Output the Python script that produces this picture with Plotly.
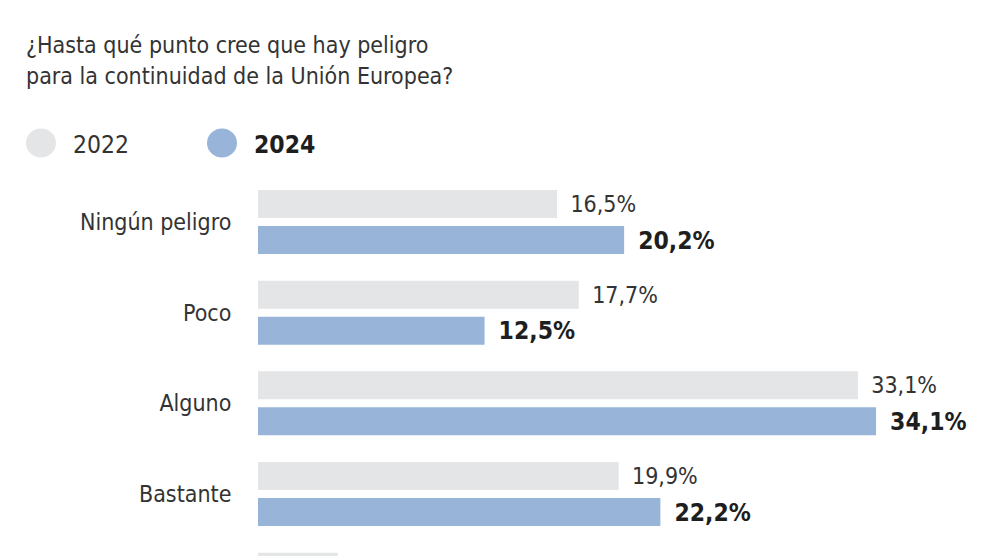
import plotly.graph_objects as go

categories = ["Ningún peligro", "Poco", "Alguno", "Bastante", "Mucho"]
values_2022 = [16.5, 17.7, 33.1, 19.9, 4.4]
values_2024 = [20.2, 12.5, 34.1, 22.2, None]
series_names = ["2022", "2024"]
title_lines = ["¿Hasta qué punto cree que hay peligro", "para la continuidad de la Unión Europea?"]

FONT = "DejaVu Sans Condensed, DejaVu Sans, sans-serif"
GRAY = "#e4e5e6"
BLUE = "#98b5d9"
TXT = "#333333"
DARK = "#1e1e1e"

# page has an 8px body margin; lay out in reference-page pixels
OFF = 8
W_FIG, H_FIG = 990 - OFF, 556 - OFF
L, T = 258 - OFF, 170 - OFF
PW, PH = W_FIG - L, H_FIG - T
PX_PER_PCT = 18.125
PX_PER_CAT = 90.67
CAT0_PX = 222 - OFF


def fmt(v):
    return "" if v is None else f"{v:.1f}".replace(".", ",") + "%"


def xp(px):
    return (px - OFF - L) / PW


def yp(py):
    return 1 - (py - OFF - T) / PH


labels_2022 = [fmt(v) for v in values_2022]
labels_2024 = [fmt(v) for v in values_2024]
labels_2022[-1] = ""  # value of the cut-off last row is not shown

bar_w = 28 / PX_PER_CAT
fig = go.Figure()
fig.add_trace(go.Bar(
    y=categories, x=values_2022, orientation="h", name=series_names[0],
    marker=dict(color=GRAY, line=dict(width=0)),
    width=bar_w, offset=-32 / PX_PER_CAT,
    text=labels_2022, textposition="outside",
    texttemplate="\u2002%{text}", constraintext="none", cliponaxis=True,
    textfont=dict(family=FONT, size=23, color=TXT),
    hoverinfo="skip",
))
fig.add_trace(go.Bar(
    y=categories, x=values_2024, orientation="h", name=series_names[1],
    marker=dict(color=BLUE, line=dict(width=0)),
    width=bar_w, offset=4 / PX_PER_CAT,
    text=labels_2024, textposition="outside",
    texttemplate="\u2002<b>%{text}</b>", constraintext="none", cliponaxis=True,
    textfont=dict(family=FONT, size=24.5, color=DARK),
    hoverinfo="skip",
))

y_top = (T - CAT0_PX) / PX_PER_CAT
y_bot = (H_FIG - CAT0_PX) / PX_PER_CAT

annotations = []
for line, yc in zip(title_lines, [45, 76]):
    annotations.append(dict(
        text=line, xref="paper", yref="paper", x=xp(24), y=yp(yc),
        xanchor="left", yanchor="middle", showarrow=False,
        font=dict(family=FONT, size=23, color=TXT),
    ))
shapes = []
for name, cx, tx, col, bold in [(series_names[0], 41, 71, GRAY, False),
                                (series_names[1], 222, 252, BLUE, True)]:
    shapes.append(dict(
        type="circle", xref="paper", yref="paper",
        xsizemode="pixel", ysizemode="pixel",
        xanchor=xp(cx), yanchor=yp(143),
        x0=-15, x1=15, y0=-14.5, y1=14.5,
        fillcolor=col, line=dict(width=0),
    ))
    annotations.append(dict(
        text=f"<b>{name}</b>" if bold else name,
        xref="paper", yref="paper", x=xp(tx), y=yp(144),
        xanchor="left", yanchor="middle", showarrow=False,
        font=dict(family=FONT, size=24.5, color=DARK if bold else TXT),
    ))

fig.update_layout(
    width=W_FIG, height=H_FIG,
    margin=dict(l=L, r=0, t=T, b=0, pad=0),
    paper_bgcolor="white", plot_bgcolor="white",
    barmode="overlay", showlegend=False,
    xaxis=dict(visible=False, range=[0, PW / PX_PER_PCT]),
    yaxis=dict(
        type="category", range=[y_bot, y_top],
        showgrid=False, zeroline=False, showline=False,
        ticks="outside", ticklen=21, tickcolor="rgba(0,0,0,0)",
        tickfont=dict(family=FONT, size=23, color=TXT),
    ),
    annotations=annotations, shapes=shapes,
)

fig.write_html("out.html")
